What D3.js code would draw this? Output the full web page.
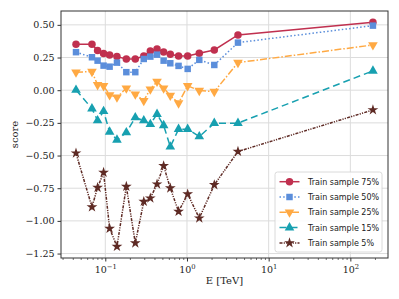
<!DOCTYPE html>
<html><head><meta charset="utf-8">
<script src="https://cdn.jsdelivr.net/npm/d3@7"></script>
<style>body{margin:0;background:#fff}svg{display:block}</style>
</head><body>
<script>
const energy = [0.0438,0.0687,0.0805,0.0953,0.113,0.139,0.181,0.233,0.296,0.356,0.430,0.518,0.625,0.789,1.02,1.415,2.16,4.21,189];
const s75 = [0.352,0.352,0.303,0.280,0.270,0.257,0.239,0.239,0.262,0.300,0.316,0.293,0.275,0.262,0.262,0.283,0.308,0.423,0.520];
const s50 = [0.291,0.252,0.226,0.188,0.180,0.211,0.138,0.138,0.239,0.257,0.272,0.226,0.206,0.186,0.163,0.232,0.193,0.364,0.494];
const s25 = [0.138,0.142,0.041,0.033,-0.036,-0.054,0.015,-0.031,-0.080,0.008,0.066,0.015,-0.041,-0.099,0.033,-0.003,-0.011,0.211,0.346];
const s15 = [0.002,-0.141,-0.232,-0.161,-0.319,-0.380,-0.324,-0.209,-0.232,-0.261,-0.183,-0.269,-0.433,-0.298,-0.298,-0.355,-0.252,-0.252,0.148];
const s5 = [-0.482,-0.894,-0.745,-0.630,-1.058,-1.196,-0.737,-1.170,-0.852,-0.826,-0.719,-0.579,-0.749,-0.928,-0.795,-0.979,-0.724,-0.469,-0.151];
const seriesNames = ["Train sample 75%","Train sample 50%","Train sample 25%","Train sample 15%","Train sample 5%"];
const yTicks = [0.5,0.25,0,-0.25,-0.5,-0.75,-1.0,-1.25];
const xTicks = [0.1,1,10,100];

const W=399,H=299;
const L=61,R=388,T=11,B=258;
const svg=d3.select("body").append("svg").attr("width",W).attr("height",H);
const x=d3.scaleLog().domain([0.0287,289]).range([L,R]);
const y=d3.scaleLinear().domain([-1.284,0.606]).range([B,T]);

const series=[
 {name:seriesNames[0],vals:s75,color:"#c0304f",dash:null,marker:d3.symbolCircle,size:44},
 {name:seriesNames[1],vals:s50,color:"#5b8edb",dash:"1.5,2.2",marker:d3.symbolSquare,size:42},
 {name:seriesNames[2],vals:s25,color:"#ffa943",dash:"7,2,1.5,2",marker:"tridown",size:40},
 {name:seriesNames[3],vals:s15,color:"#17a0b0",dash:"7,4",marker:d3.symbolTriangle,size:40},
 {name:seriesNames[4],vals:s5,color:"#5e2a24",dash:"3,1.2,1.2,1.2,1.2,1.2",marker:d3.symbolStar,size:36}
];

// grid
const g=svg.append("g");
g.selectAll(".gx").data(xTicks).join("line").attr("x1",d=>x(d)).attr("x2",d=>x(d)).attr("y1",T).attr("y2",B).attr("stroke","#dcdcdc").attr("stroke-width",1);
g.selectAll(".gy").data(yTicks).join("line").attr("y1",d=>y(d)).attr("y2",d=>y(d)).attr("x1",L).attr("x2",R).attr("stroke","#dcdcdc").attr("stroke-width",1);

// axes
const yAxis=d3.axisLeft(y).tickValues(yTicks).tickSize(3.5).tickPadding(3).tickFormat(d=>d3.format(".2f")(d).replace("-","\u2212"));
const ya=svg.append("g").attr("transform",`translate(${L},0)`).call(yAxis);
ya.select(".domain").remove();
ya.selectAll("text").attr("font-family","DejaVu Serif").attr("font-size",9.5).attr("fill","#222");
ya.selectAll("line").attr("stroke","#333");

const minor=[];
for(let e=-2;e<=2;e++)for(let m=2;m<=9;m++){const v=m*Math.pow(10,e);if(v>=0.0287&&v<=289)minor.push(v);}
const xm=svg.append("g").attr("transform",`translate(0,${B})`).call(d3.axisBottom(x).tickValues(minor).tickSize(2).tickFormat(""));
xm.select(".domain").remove(); xm.selectAll("line").attr("stroke","#333").attr("stroke-width",0.7);
const xa=svg.append("g").attr("transform",`translate(0,${B})`).call(d3.axisBottom(x).tickValues(xTicks).tickSize(3.5).tickFormat(""));
xa.select(".domain").remove(); xa.selectAll("line").attr("stroke","#333");
const sup={"-1":"\u22121","0":"0","1":"1","2":"2"};
xa.selectAll(".tick").append("text").attr("y",15).attr("text-anchor","middle").attr("font-family","DejaVu Serif").attr("font-size",9.5).attr("fill","#222")
 .each(function(d){const t=d3.select(this);const e=Math.round(Math.log10(d));
   t.append("tspan").text("10");
   t.append("tspan").attr("dy",-4).attr("font-size",6.8).text(sup[String(e)]);});

// frame
svg.append("rect").attr("x",L).attr("y",T).attr("width",R-L).attr("height",B-T).attr("fill","none").attr("stroke","#333").attr("stroke-width",1);

// labels
svg.append("text").attr("x",(L+R)/2).attr("y",284).attr("text-anchor","middle").attr("font-family","DejaVu Serif").attr("font-size",10).attr("fill","#222").text("E [TeV]");
svg.append("text").attr("transform",`translate(18,${(T+B)/2}) rotate(-90)`).attr("text-anchor","middle").attr("font-family","DejaVu Serif").attr("font-size",10).attr("fill","#222").text("score");

function markerPath(m,size){
  if(m==="tridown") return d3.symbol().type(d3.symbolTriangle).size(size)();
  return d3.symbol().type(m).size(size)();
}
const line=d3.line().x((d,i)=>x(energy[i])).y(d=>y(d));
const plot=svg.append("g");
series.forEach(s=>{
  plot.append("path").datum(s.vals).attr("d",line).attr("fill","none").attr("stroke",s.color).attr("stroke-width",1.5).attr("stroke-dasharray",s.dash);
  plot.selectAll(null).data(s.vals).join("path").attr("d",markerPath(s.marker,s.size))
   .attr("transform",(d,i)=>`translate(${x(energy[i])},${y(d)})${s.marker==="tridown"?" rotate(180)":""}`)
   .attr("fill",s.color);
});

// legend
const lg=svg.append("g");
lg.append("rect").attr("x",275).attr("y",172).attr("width",107).attr("height",80).attr("rx",2.5).attr("fill","#fff").attr("fill-opacity",0.85).attr("stroke","#d0d0d0").attr("stroke-width",0.8);
series.forEach((s,i)=>{
  const yy=181.7+i*15.3;
  lg.append("line").attr("x1",279.5).attr("x2",299.5).attr("y1",yy).attr("y2",yy).attr("stroke",s.color).attr("stroke-width",1.5).attr("stroke-dasharray",s.dash);
  lg.append("path").attr("d",markerPath(s.marker,s.size)).attr("transform",`translate(289.5,${yy})${s.marker==="tridown"?" rotate(180)":""}`).attr("fill",s.color);
  lg.append("text").attr("x",308).attr("y",yy+3).attr("font-family","DejaVu Sans").attr("font-size",8).attr("fill","#222").text(s.name);
});
</script>
</body></html>
